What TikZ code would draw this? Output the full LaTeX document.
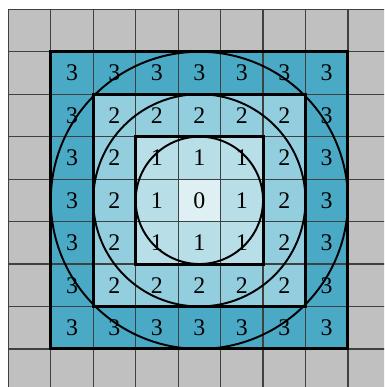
\documentclass[tikz,border=0pt]{standalone}
\usepackage{fontspec}
\setmainfont{Liberation Serif}
\usetikzlibrary{calc}
\definecolor{color_outer}{HTML}{C0C0C0}
\definecolor{color_ring3}{HTML}{4AA9C4}
\definecolor{color_ring2}{HTML}{93CEDE}
\definecolor{color_ring1}{HTML}{B8DEE8}
\definecolor{color_ring0}{HTML}{DFF0F5}
\definecolor{color_grid}{HTML}{404040}
\tikzset{
  grid_line/.style={draw=color_grid, line width=0.8pt},
  ring_box/.style={draw=black, line width=2pt},
  ring_circle/.style={draw=black, line width=1.3pt},
  cell_label/.style={font=\fontsize{16}{18}\selectfont, text=black, inner sep=0pt},
}

\begin{document}
\begin{tikzpicture}[x=1cm, y=1cm]
    \useasboundingbox (-0.196, 0.103) rectangle (8.85, 9.219);
    \clip (-0.196, 0.103) rectangle (8.85, 9.219);
    % fills, outside in
    \fill[color_outer] (0,0) rectangle (9,9);
    \fill[color_ring3] (1,1) rectangle (8,8);
    \fill[color_ring2] (2,2) rectangle (7,7);
    \fill[color_ring1] (3,3) rectangle (6,6);
    \fill[color_ring0] (4,4) rectangle (5,5);
    \draw[grid_line] (0,0) grid (9,9);
    % distance of each cell from the centre
    \foreach \i in {1,...,7} {
      \foreach \j in {1,...,7} {
        \pgfmathtruncatemacro{\dist}{max(abs(\i-4), abs(\j-4))}
        \node[cell_label] (cell\i\j) at (\i+0.5, \j+0.5) {\dist};
      }
    }
    \draw[ring_box] (1,1) rectangle (8,8);
    \draw[ring_box] (2,2) rectangle (7,7);
    \draw[ring_box] (3,3) rectangle (6,6);
    \coordinate (centre) at (4.5, 4.5);
    \draw[ring_circle] (centre) circle (3.5);
    \draw[ring_circle] (centre) circle (2.5);
    \draw[ring_circle] (centre) circle (1.5);
  \end{tikzpicture}
\end{document}
